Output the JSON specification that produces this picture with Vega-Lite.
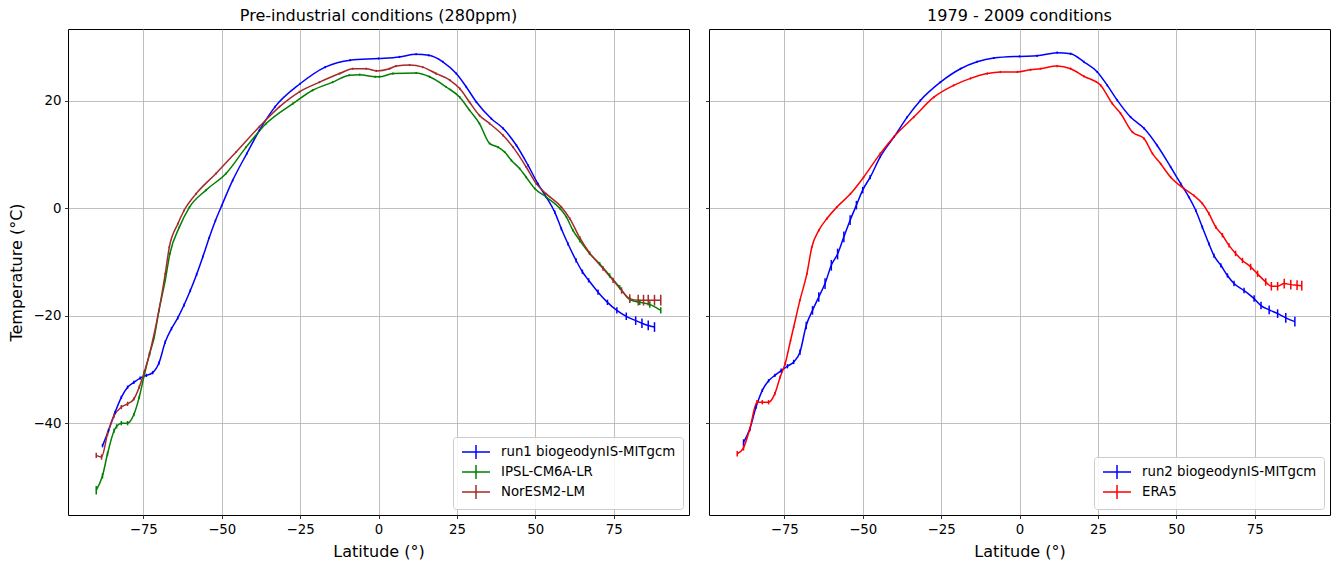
{
  "$schema": "https://vega.github.io/schema/vega-lite/v6.json",
  "background": "white",
  "padding": {"left": 8, "top": 7, "right": 8, "bottom": 5},
  "spacing": 14,
  "config": {
    "font": "DejaVu Sans",
    "view": {"stroke": "black", "strokeWidth": 1},
    "axis": {"domain": false, "grid": true, "gridColor": "#b0b0b0", "gridWidth": 0.8, "tickColor": "black", "tickWidth": 0.8, "tickSize": 3.5, "labelFontSize": 13.3, "labelColor": "black", "labelPadding": 3.5, "titleFontSize": 16, "titleFontWeight": "normal", "titleColor": "black", "titlePadding": 8},
    "title": {"fontSize": 16, "fontWeight": "normal", "offset": 5, "color": "black", "frame": "group"},
    "legend": {"orient": "bottom-right", "offset": 6, "title": null, "symbolType": "M-2,0H2M0,-1V1", "symbolSize": 196, "symbolStrokeWidth": 1.5, "symbolFillColor": "transparent", "labelFontSize": 13.3, "labelColor": "black", "labelLimit": 400, "fillColor": "rgba(255,255,255,0.85)", "strokeColor": "#cccccc", "cornerRadius": 3, "padding": 7, "rowPadding": 0, "symbolOffset": 8, "labelOffset": 17}
  },
  "datasets": {
    "left": [
      {"s": "run1 biogeodynIS-MITgcm", "lat": -88, "t": -44.2, "e": 0.3},
      {"s": "run1 biogeodynIS-MITgcm", "lat": -86.1, "t": -41.4, "e": 0.3},
      {"s": "run1 biogeodynIS-MITgcm", "lat": -84, "t": -38.0, "e": 0.3},
      {"s": "run1 biogeodynIS-MITgcm", "lat": -82, "t": -35.2, "e": 0.3},
      {"s": "run1 biogeodynIS-MITgcm", "lat": -80, "t": -33.3, "e": 0.3},
      {"s": "run1 biogeodynIS-MITgcm", "lat": -78, "t": -32.4, "e": 0.3},
      {"s": "run1 biogeodynIS-MITgcm", "lat": -76, "t": -31.6, "e": 0.3},
      {"s": "run1 biogeodynIS-MITgcm", "lat": -74, "t": -31.1, "e": 0.3},
      {"s": "run1 biogeodynIS-MITgcm", "lat": -72, "t": -30.6, "e": 0.3},
      {"s": "run1 biogeodynIS-MITgcm", "lat": -70, "t": -28.8, "e": 0.3},
      {"s": "run1 biogeodynIS-MITgcm", "lat": -68, "t": -24.9, "e": 0.3},
      {"s": "run1 biogeodynIS-MITgcm", "lat": -66, "t": -22.4, "e": 0.3},
      {"s": "run1 biogeodynIS-MITgcm", "lat": -64, "t": -20.4, "e": 0.3},
      {"s": "run1 biogeodynIS-MITgcm", "lat": -62, "t": -18.0, "e": 0.3},
      {"s": "run1 biogeodynIS-MITgcm", "lat": -60, "t": -15.3, "e": 0.3},
      {"s": "run1 biogeodynIS-MITgcm", "lat": -58, "t": -12.3, "e": 0.3},
      {"s": "run1 biogeodynIS-MITgcm", "lat": -56, "t": -9.0, "e": 0.2},
      {"s": "run1 biogeodynIS-MITgcm", "lat": -54, "t": -5.5, "e": 0.2},
      {"s": "run1 biogeodynIS-MITgcm", "lat": -52, "t": -2.3, "e": 0.2},
      {"s": "run1 biogeodynIS-MITgcm", "lat": -50, "t": 0.5, "e": 0.2},
      {"s": "run1 biogeodynIS-MITgcm", "lat": -46.5, "t": 5.2, "e": 0.2},
      {"s": "run1 biogeodynIS-MITgcm", "lat": -42, "t": 10.2, "e": 0.2},
      {"s": "run1 biogeodynIS-MITgcm", "lat": -38, "t": 14.5, "e": 0.2},
      {"s": "run1 biogeodynIS-MITgcm", "lat": -33, "t": 18.9, "e": 0.2},
      {"s": "run1 biogeodynIS-MITgcm", "lat": -25, "t": 23.2, "e": 0.2},
      {"s": "run1 biogeodynIS-MITgcm", "lat": -17, "t": 26.3, "e": 0.2},
      {"s": "run1 biogeodynIS-MITgcm", "lat": -9, "t": 27.6, "e": 0.2},
      {"s": "run1 biogeodynIS-MITgcm", "lat": 0, "t": 27.9, "e": 0.2},
      {"s": "run1 biogeodynIS-MITgcm", "lat": 6.7, "t": 28.2, "e": 0.2},
      {"s": "run1 biogeodynIS-MITgcm", "lat": 12, "t": 28.7, "e": 0.2},
      {"s": "run1 biogeodynIS-MITgcm", "lat": 16, "t": 28.5, "e": 0.2},
      {"s": "run1 biogeodynIS-MITgcm", "lat": 20.5, "t": 27.3, "e": 0.2},
      {"s": "run1 biogeodynIS-MITgcm", "lat": 24.8, "t": 25.1, "e": 0.2},
      {"s": "run1 biogeodynIS-MITgcm", "lat": 28, "t": 22.6, "e": 0.2},
      {"s": "run1 biogeodynIS-MITgcm", "lat": 31.2, "t": 19.8, "e": 0.2},
      {"s": "run1 biogeodynIS-MITgcm", "lat": 36, "t": 16.7, "e": 0.2},
      {"s": "run1 biogeodynIS-MITgcm", "lat": 39.7, "t": 14.9, "e": 0.2},
      {"s": "run1 biogeodynIS-MITgcm", "lat": 44, "t": 11.7, "e": 0.2},
      {"s": "run1 biogeodynIS-MITgcm", "lat": 47.7, "t": 8.0, "e": 0.2},
      {"s": "run1 biogeodynIS-MITgcm", "lat": 50.8, "t": 4.6, "e": 0.2},
      {"s": "run1 biogeodynIS-MITgcm", "lat": 53.5, "t": 2.1, "e": 0.2},
      {"s": "run1 biogeodynIS-MITgcm", "lat": 56.2, "t": -0.7, "e": 0.3},
      {"s": "run1 biogeodynIS-MITgcm", "lat": 58.3, "t": -3.8, "e": 0.3},
      {"s": "run1 biogeodynIS-MITgcm", "lat": 60.4, "t": -6.6, "e": 0.3},
      {"s": "run1 biogeodynIS-MITgcm", "lat": 63, "t": -9.7, "e": 0.4},
      {"s": "run1 biogeodynIS-MITgcm", "lat": 65, "t": -11.8, "e": 0.4},
      {"s": "run1 biogeodynIS-MITgcm", "lat": 67, "t": -13.4, "e": 0.4},
      {"s": "run1 biogeodynIS-MITgcm", "lat": 70, "t": -15.6, "e": 0.5},
      {"s": "run1 biogeodynIS-MITgcm", "lat": 73, "t": -17.5, "e": 0.5},
      {"s": "run1 biogeodynIS-MITgcm", "lat": 76, "t": -19.0, "e": 0.6},
      {"s": "run1 biogeodynIS-MITgcm", "lat": 79, "t": -20.1, "e": 0.7},
      {"s": "run1 biogeodynIS-MITgcm", "lat": 82, "t": -20.9, "e": 0.8},
      {"s": "run1 biogeodynIS-MITgcm", "lat": 84, "t": -21.4, "e": 0.9},
      {"s": "run1 biogeodynIS-MITgcm", "lat": 86, "t": -21.8, "e": 0.9},
      {"s": "run1 biogeodynIS-MITgcm", "lat": 88, "t": -22.1, "e": 0.9},
      {"s": "IPSL-CM6A-LR", "lat": -90, "t": -52.5, "e": 0.8},
      {"s": "IPSL-CM6A-LR", "lat": -88, "t": -49.8, "e": 0.5},
      {"s": "IPSL-CM6A-LR", "lat": -86.4, "t": -45.7, "e": 0.4},
      {"s": "IPSL-CM6A-LR", "lat": -84.3, "t": -41.4, "e": 0.4},
      {"s": "IPSL-CM6A-LR", "lat": -83.5, "t": -40.6, "e": 0.4},
      {"s": "IPSL-CM6A-LR", "lat": -82, "t": -40.0, "e": 0.4},
      {"s": "IPSL-CM6A-LR", "lat": -80, "t": -40.0, "e": 0.4},
      {"s": "IPSL-CM6A-LR", "lat": -78, "t": -38.4, "e": 0.3},
      {"s": "IPSL-CM6A-LR", "lat": -76.3, "t": -35.2, "e": 0.3},
      {"s": "IPSL-CM6A-LR", "lat": -74.7, "t": -31.1, "e": 0.3},
      {"s": "IPSL-CM6A-LR", "lat": -73, "t": -27.1, "e": 0.3},
      {"s": "IPSL-CM6A-LR", "lat": -71.5, "t": -24.0, "e": 0.2},
      {"s": "IPSL-CM6A-LR", "lat": -70, "t": -19.0, "e": 0.2},
      {"s": "IPSL-CM6A-LR", "lat": -68, "t": -13.4, "e": 0.2},
      {"s": "IPSL-CM6A-LR", "lat": -66.5, "t": -8.4, "e": 0.2},
      {"s": "IPSL-CM6A-LR", "lat": -63.5, "t": -3.5, "e": 0.2},
      {"s": "IPSL-CM6A-LR", "lat": -60.3, "t": 0.2, "e": 0.2},
      {"s": "IPSL-CM6A-LR", "lat": -55, "t": 3.4, "e": 0.2},
      {"s": "IPSL-CM6A-LR", "lat": -48.6, "t": 6.5, "e": 0.2},
      {"s": "IPSL-CM6A-LR", "lat": -42.2, "t": 11.4, "e": 0.2},
      {"s": "IPSL-CM6A-LR", "lat": -35.8, "t": 15.8, "e": 0.2},
      {"s": "IPSL-CM6A-LR", "lat": -27.3, "t": 19.5, "e": 0.2},
      {"s": "IPSL-CM6A-LR", "lat": -21, "t": 22.0, "e": 0.2},
      {"s": "IPSL-CM6A-LR", "lat": -14.6, "t": 23.5, "e": 0.2},
      {"s": "IPSL-CM6A-LR", "lat": -9.3, "t": 24.8, "e": 0.2},
      {"s": "IPSL-CM6A-LR", "lat": -6, "t": 24.9, "e": 0.2},
      {"s": "IPSL-CM6A-LR", "lat": -1, "t": 24.5, "e": 0.2},
      {"s": "IPSL-CM6A-LR", "lat": 0.3, "t": 24.5, "e": 0.2},
      {"s": "IPSL-CM6A-LR", "lat": 4.6, "t": 25.1, "e": 0.2},
      {"s": "IPSL-CM6A-LR", "lat": 12, "t": 25.2, "e": 0.2},
      {"s": "IPSL-CM6A-LR", "lat": 16.3, "t": 24.5, "e": 0.2},
      {"s": "IPSL-CM6A-LR", "lat": 21.6, "t": 22.6, "e": 0.2},
      {"s": "IPSL-CM6A-LR", "lat": 25.9, "t": 20.7, "e": 0.2},
      {"s": "IPSL-CM6A-LR", "lat": 29, "t": 18.3, "e": 0.2},
      {"s": "IPSL-CM6A-LR", "lat": 32.2, "t": 15.8, "e": 0.2},
      {"s": "IPSL-CM6A-LR", "lat": 35.4, "t": 12.1, "e": 0.2},
      {"s": "IPSL-CM6A-LR", "lat": 38.1, "t": 11.4, "e": 0.2},
      {"s": "IPSL-CM6A-LR", "lat": 40.2, "t": 10.5, "e": 0.2},
      {"s": "IPSL-CM6A-LR", "lat": 42.4, "t": 8.9, "e": 0.2},
      {"s": "IPSL-CM6A-LR", "lat": 45, "t": 7.4, "e": 0.2},
      {"s": "IPSL-CM6A-LR", "lat": 47.1, "t": 5.8, "e": 0.2},
      {"s": "IPSL-CM6A-LR", "lat": 49.8, "t": 3.7, "e": 0.2},
      {"s": "IPSL-CM6A-LR", "lat": 53.5, "t": 2.1, "e": 0.2},
      {"s": "IPSL-CM6A-LR", "lat": 57.8, "t": 0.0, "e": 0.2},
      {"s": "IPSL-CM6A-LR", "lat": 59.9, "t": -1.6, "e": 0.2},
      {"s": "IPSL-CM6A-LR", "lat": 62, "t": -4.1, "e": 0.2},
      {"s": "IPSL-CM6A-LR", "lat": 64.2, "t": -6.0, "e": 0.3},
      {"s": "IPSL-CM6A-LR", "lat": 67.3, "t": -8.4, "e": 0.3},
      {"s": "IPSL-CM6A-LR", "lat": 70.5, "t": -10.3, "e": 0.3},
      {"s": "IPSL-CM6A-LR", "lat": 73.7, "t": -12.5, "e": 0.4},
      {"s": "IPSL-CM6A-LR", "lat": 76.9, "t": -14.7, "e": 0.4},
      {"s": "IPSL-CM6A-LR", "lat": 80.1, "t": -17.0, "e": 0.5},
      {"s": "IPSL-CM6A-LR", "lat": 83.3, "t": -17.5, "e": 0.5},
      {"s": "IPSL-CM6A-LR", "lat": 86.5, "t": -17.9, "e": 0.6},
      {"s": "IPSL-CM6A-LR", "lat": 90, "t": -19.0, "e": 0.6},
      {"s": "NorESM2-LM", "lat": -90, "t": -46.0, "e": 0.5},
      {"s": "NorESM2-LM", "lat": -88.3, "t": -46.3, "e": 0.5},
      {"s": "NorESM2-LM", "lat": -86.4, "t": -42.0, "e": 0.4},
      {"s": "NorESM2-LM", "lat": -84.3, "t": -38.6, "e": 0.4},
      {"s": "NorESM2-LM", "lat": -82, "t": -37.0, "e": 0.4},
      {"s": "NorESM2-LM", "lat": -80, "t": -36.4, "e": 0.4},
      {"s": "NorESM2-LM", "lat": -78, "t": -35.5, "e": 0.3},
      {"s": "NorESM2-LM", "lat": -76.3, "t": -33.3, "e": 0.3},
      {"s": "NorESM2-LM", "lat": -74.7, "t": -30.5, "e": 0.3},
      {"s": "NorESM2-LM", "lat": -73, "t": -27.1, "e": 0.3},
      {"s": "NorESM2-LM", "lat": -72, "t": -24.6, "e": 0.2},
      {"s": "NorESM2-LM", "lat": -70, "t": -19.0, "e": 0.2},
      {"s": "NorESM2-LM", "lat": -68, "t": -12.2, "e": 0.2},
      {"s": "NorESM2-LM", "lat": -66.7, "t": -7.2, "e": 0.2},
      {"s": "NorESM2-LM", "lat": -64, "t": -2.9, "e": 0.2},
      {"s": "NorESM2-LM", "lat": -62, "t": -0.4, "e": 0.2},
      {"s": "NorESM2-LM", "lat": -58.2, "t": 2.7, "e": 0.2},
      {"s": "NorESM2-LM", "lat": -51.8, "t": 6.5, "e": 0.2},
      {"s": "NorESM2-LM", "lat": -45.4, "t": 10.5, "e": 0.2},
      {"s": "NorESM2-LM", "lat": -38, "t": 15.2, "e": 0.2},
      {"s": "NorESM2-LM", "lat": -31.6, "t": 18.9, "e": 0.2},
      {"s": "NorESM2-LM", "lat": -25.2, "t": 21.7, "e": 0.2},
      {"s": "NorESM2-LM", "lat": -18.8, "t": 23.5, "e": 0.2},
      {"s": "NorESM2-LM", "lat": -12.4, "t": 25.1, "e": 0.2},
      {"s": "NorESM2-LM", "lat": -8.2, "t": 26.0, "e": 0.2},
      {"s": "NorESM2-LM", "lat": -3.9, "t": 26.0, "e": 0.2},
      {"s": "NorESM2-LM", "lat": -0.7, "t": 25.6, "e": 0.2},
      {"s": "NorESM2-LM", "lat": 3.5, "t": 26.0, "e": 0.2},
      {"s": "NorESM2-LM", "lat": 5.6, "t": 26.5, "e": 0.2},
      {"s": "NorESM2-LM", "lat": 9.9, "t": 26.7, "e": 0.2},
      {"s": "NorESM2-LM", "lat": 14.1, "t": 26.3, "e": 0.2},
      {"s": "NorESM2-LM", "lat": 18.4, "t": 25.1, "e": 0.2},
      {"s": "NorESM2-LM", "lat": 22.7, "t": 23.9, "e": 0.2},
      {"s": "NorESM2-LM", "lat": 25.9, "t": 22.3, "e": 0.2},
      {"s": "NorESM2-LM", "lat": 29, "t": 19.8, "e": 0.2},
      {"s": "NorESM2-LM", "lat": 32.2, "t": 17.3, "e": 0.2},
      {"s": "NorESM2-LM", "lat": 35.4, "t": 15.8, "e": 0.2},
      {"s": "NorESM2-LM", "lat": 39.7, "t": 13.6, "e": 0.2},
      {"s": "NorESM2-LM", "lat": 42.9, "t": 11.4, "e": 0.2},
      {"s": "NorESM2-LM", "lat": 47.1, "t": 7.7, "e": 0.2},
      {"s": "NorESM2-LM", "lat": 50.3, "t": 4.6, "e": 0.2},
      {"s": "NorESM2-LM", "lat": 53.5, "t": 2.7, "e": 0.2},
      {"s": "NorESM2-LM", "lat": 58.3, "t": 0.25, "e": 0.2},
      {"s": "NorESM2-LM", "lat": 61, "t": -1.9, "e": 0.2},
      {"s": "NorESM2-LM", "lat": 64.2, "t": -5.5, "e": 0.3},
      {"s": "NorESM2-LM", "lat": 67.3, "t": -8.3, "e": 0.3},
      {"s": "NorESM2-LM", "lat": 71.6, "t": -11.2, "e": 0.4},
      {"s": "NorESM2-LM", "lat": 74.8, "t": -13.4, "e": 0.5},
      {"s": "NorESM2-LM", "lat": 77.5, "t": -15.3, "e": 0.6},
      {"s": "NorESM2-LM", "lat": 80.1, "t": -16.8, "e": 0.8},
      {"s": "NorESM2-LM", "lat": 82.8, "t": -17.1, "e": 1.0},
      {"s": "NorESM2-LM", "lat": 84.5, "t": -17.1, "e": 1.0},
      {"s": "NorESM2-LM", "lat": 86, "t": -17.1, "e": 1.0},
      {"s": "NorESM2-LM", "lat": 88, "t": -17.1, "e": 1.0},
      {"s": "NorESM2-LM", "lat": 90, "t": -17.1, "e": 1.0}
    ],
    "right": [
      {"s": "run2 biogeodynIS-MITgcm", "lat": -88, "t": -43.6, "e": 0.6},
      {"s": "run2 biogeodynIS-MITgcm", "lat": -86, "t": -41.1, "e": 0.4},
      {"s": "run2 biogeodynIS-MITgcm", "lat": -84, "t": -37.0, "e": 0.3},
      {"s": "run2 biogeodynIS-MITgcm", "lat": -82, "t": -33.9, "e": 0.3},
      {"s": "run2 biogeodynIS-MITgcm", "lat": -80, "t": -32.1, "e": 0.3},
      {"s": "run2 biogeodynIS-MITgcm", "lat": -78, "t": -31.1, "e": 0.3},
      {"s": "run2 biogeodynIS-MITgcm", "lat": -76, "t": -30.2, "e": 0.4},
      {"s": "run2 biogeodynIS-MITgcm", "lat": -74, "t": -29.4, "e": 0.4},
      {"s": "run2 biogeodynIS-MITgcm", "lat": -72, "t": -28.6, "e": 0.4},
      {"s": "run2 biogeodynIS-MITgcm", "lat": -70, "t": -26.8, "e": 0.5},
      {"s": "run2 biogeodynIS-MITgcm", "lat": -68, "t": -21.8, "e": 0.7},
      {"s": "run2 biogeodynIS-MITgcm", "lat": -66, "t": -19.0, "e": 0.8},
      {"s": "run2 biogeodynIS-MITgcm", "lat": -64, "t": -16.5, "e": 0.9},
      {"s": "run2 biogeodynIS-MITgcm", "lat": -62, "t": -14.0, "e": 1.0},
      {"s": "run2 biogeodynIS-MITgcm", "lat": -60, "t": -10.6, "e": 1.0},
      {"s": "run2 biogeodynIS-MITgcm", "lat": -58, "t": -8.5, "e": 1.0},
      {"s": "run2 biogeodynIS-MITgcm", "lat": -56, "t": -5.3, "e": 1.0},
      {"s": "run2 biogeodynIS-MITgcm", "lat": -54, "t": -2.2, "e": 0.9},
      {"s": "run2 biogeodynIS-MITgcm", "lat": -52, "t": 0.6, "e": 0.8},
      {"s": "run2 biogeodynIS-MITgcm", "lat": -50, "t": 3.4, "e": 0.6},
      {"s": "run2 biogeodynIS-MITgcm", "lat": -47.6, "t": 5.8, "e": 0.4},
      {"s": "run2 biogeodynIS-MITgcm", "lat": -44.4, "t": 9.6, "e": 0.2},
      {"s": "run2 biogeodynIS-MITgcm", "lat": -40, "t": 13.3, "e": 0.2},
      {"s": "run2 biogeodynIS-MITgcm", "lat": -35.8, "t": 17.0, "e": 0.2},
      {"s": "run2 biogeodynIS-MITgcm", "lat": -31.6, "t": 20.1, "e": 0.2},
      {"s": "run2 biogeodynIS-MITgcm", "lat": -25.2, "t": 23.5, "e": 0.2},
      {"s": "run2 biogeodynIS-MITgcm", "lat": -18.8, "t": 26.0, "e": 0.2},
      {"s": "run2 biogeodynIS-MITgcm", "lat": -13.5, "t": 27.3, "e": 0.2},
      {"s": "run2 biogeodynIS-MITgcm", "lat": -8.2, "t": 28.0, "e": 0.2},
      {"s": "run2 biogeodynIS-MITgcm", "lat": 0, "t": 28.3, "e": 0.2},
      {"s": "run2 biogeodynIS-MITgcm", "lat": 5.6, "t": 28.4, "e": 0.2},
      {"s": "run2 biogeodynIS-MITgcm", "lat": 12, "t": 29.0, "e": 0.2},
      {"s": "run2 biogeodynIS-MITgcm", "lat": 16.3, "t": 28.8, "e": 0.2},
      {"s": "run2 biogeodynIS-MITgcm", "lat": 20.5, "t": 27.3, "e": 0.2},
      {"s": "run2 biogeodynIS-MITgcm", "lat": 24.8, "t": 25.4, "e": 0.2},
      {"s": "run2 biogeodynIS-MITgcm", "lat": 28, "t": 22.9, "e": 0.2},
      {"s": "run2 biogeodynIS-MITgcm", "lat": 31.2, "t": 20.1, "e": 0.2},
      {"s": "run2 biogeodynIS-MITgcm", "lat": 35.4, "t": 17.0, "e": 0.2},
      {"s": "run2 biogeodynIS-MITgcm", "lat": 39.7, "t": 14.9, "e": 0.2},
      {"s": "run2 biogeodynIS-MITgcm", "lat": 43.9, "t": 11.7, "e": 0.2},
      {"s": "run2 biogeodynIS-MITgcm", "lat": 48.2, "t": 7.7, "e": 0.2},
      {"s": "run2 biogeodynIS-MITgcm", "lat": 51.4, "t": 4.6, "e": 0.2},
      {"s": "run2 biogeodynIS-MITgcm", "lat": 54, "t": 2.1, "e": 0.2},
      {"s": "run2 biogeodynIS-MITgcm", "lat": 56.2, "t": -0.4, "e": 0.3},
      {"s": "run2 biogeodynIS-MITgcm", "lat": 58.3, "t": -3.5, "e": 0.3},
      {"s": "run2 biogeodynIS-MITgcm", "lat": 60.4, "t": -6.6, "e": 0.3},
      {"s": "run2 biogeodynIS-MITgcm", "lat": 62, "t": -8.8, "e": 0.4},
      {"s": "run2 biogeodynIS-MITgcm", "lat": 64.2, "t": -10.6, "e": 0.4},
      {"s": "run2 biogeodynIS-MITgcm", "lat": 66.3, "t": -12.5, "e": 0.4},
      {"s": "run2 biogeodynIS-MITgcm", "lat": 68.4, "t": -14.0, "e": 0.5},
      {"s": "run2 biogeodynIS-MITgcm", "lat": 71.6, "t": -15.3, "e": 0.5},
      {"s": "run2 biogeodynIS-MITgcm", "lat": 74.8, "t": -16.8, "e": 0.6},
      {"s": "run2 biogeodynIS-MITgcm", "lat": 77, "t": -18.1, "e": 0.7},
      {"s": "run2 biogeodynIS-MITgcm", "lat": 79.6, "t": -18.9, "e": 0.8},
      {"s": "run2 biogeodynIS-MITgcm", "lat": 82.3, "t": -19.6, "e": 0.8},
      {"s": "run2 biogeodynIS-MITgcm", "lat": 84.9, "t": -20.4, "e": 0.9},
      {"s": "run2 biogeodynIS-MITgcm", "lat": 87.8, "t": -21.1, "e": 0.9},
      {"s": "ERA5", "lat": -90, "t": -45.7, "e": 0.5},
      {"s": "ERA5", "lat": -88, "t": -44.6, "e": 0.5},
      {"s": "ERA5", "lat": -86, "t": -41.1, "e": 0.4},
      {"s": "ERA5", "lat": -83.7, "t": -36.1, "e": 0.4},
      {"s": "ERA5", "lat": -82, "t": -36.1, "e": 0.4},
      {"s": "ERA5", "lat": -80, "t": -36.1, "e": 0.4},
      {"s": "ERA5", "lat": -78, "t": -34.5, "e": 0.3},
      {"s": "ERA5", "lat": -76.3, "t": -31.4, "e": 0.3},
      {"s": "ERA5", "lat": -74.7, "t": -28.9, "e": 0.3},
      {"s": "ERA5", "lat": -73, "t": -24.6, "e": 0.2},
      {"s": "ERA5", "lat": -72, "t": -22.1, "e": 0.2},
      {"s": "ERA5", "lat": -70, "t": -17.1, "e": 0.2},
      {"s": "ERA5", "lat": -67.8, "t": -12.2, "e": 0.2},
      {"s": "ERA5", "lat": -66.2, "t": -7.2, "e": 0.2},
      {"s": "ERA5", "lat": -64, "t": -4.1, "e": 0.2},
      {"s": "ERA5", "lat": -61.4, "t": -1.9, "e": 0.2},
      {"s": "ERA5", "lat": -58.2, "t": 0.25, "e": 0.2},
      {"s": "ERA5", "lat": -53.9, "t": 2.7, "e": 0.2},
      {"s": "ERA5", "lat": -49.7, "t": 5.8, "e": 0.2},
      {"s": "ERA5", "lat": -44.4, "t": 10.2, "e": 0.2},
      {"s": "ERA5", "lat": -40.1, "t": 13.3, "e": 0.2},
      {"s": "ERA5", "lat": -33.7, "t": 17.0, "e": 0.2},
      {"s": "ERA5", "lat": -27.3, "t": 20.7, "e": 0.2},
      {"s": "ERA5", "lat": -21, "t": 22.9, "e": 0.2},
      {"s": "ERA5", "lat": -15.6, "t": 24.2, "e": 0.2},
      {"s": "ERA5", "lat": -10.3, "t": 25.1, "e": 0.2},
      {"s": "ERA5", "lat": -6.1, "t": 25.4, "e": 0.2},
      {"s": "ERA5", "lat": -0.7, "t": 25.4, "e": 0.2},
      {"s": "ERA5", "lat": 3.5, "t": 25.8, "e": 0.2},
      {"s": "ERA5", "lat": 6.7, "t": 26.0, "e": 0.2},
      {"s": "ERA5", "lat": 12, "t": 26.5, "e": 0.2},
      {"s": "ERA5", "lat": 16.3, "t": 26.0, "e": 0.2},
      {"s": "ERA5", "lat": 20.5, "t": 24.6, "e": 0.2},
      {"s": "ERA5", "lat": 25.9, "t": 22.9, "e": 0.2},
      {"s": "ERA5", "lat": 29.6, "t": 19.5, "e": 0.2},
      {"s": "ERA5", "lat": 32.2, "t": 17.7, "e": 0.2},
      {"s": "ERA5", "lat": 36, "t": 14.2, "e": 0.2},
      {"s": "ERA5", "lat": 39.7, "t": 13.0, "e": 0.2},
      {"s": "ERA5", "lat": 42.4, "t": 10.2, "e": 0.2},
      {"s": "ERA5", "lat": 45, "t": 8.3, "e": 0.2},
      {"s": "ERA5", "lat": 48.2, "t": 5.8, "e": 0.2},
      {"s": "ERA5", "lat": 52.4, "t": 3.7, "e": 0.2},
      {"s": "ERA5", "lat": 55.6, "t": 2.4, "e": 0.2},
      {"s": "ERA5", "lat": 58.3, "t": 0.9, "e": 0.2},
      {"s": "ERA5", "lat": 60.4, "t": -1.0, "e": 0.3},
      {"s": "ERA5", "lat": 62.6, "t": -3.5, "e": 0.3},
      {"s": "ERA5", "lat": 64.7, "t": -5.0, "e": 0.4},
      {"s": "ERA5", "lat": 66.8, "t": -6.9, "e": 0.4},
      {"s": "ERA5", "lat": 68.9, "t": -8.4, "e": 0.5},
      {"s": "ERA5", "lat": 71.1, "t": -9.7, "e": 0.5},
      {"s": "ERA5", "lat": 73.7, "t": -10.9, "e": 0.6},
      {"s": "ERA5", "lat": 75.9, "t": -12.2, "e": 0.6},
      {"s": "ERA5", "lat": 78.5, "t": -13.7, "e": 0.7},
      {"s": "ERA5", "lat": 80.3, "t": -14.5, "e": 0.8},
      {"s": "ERA5", "lat": 82.3, "t": -14.5, "e": 0.8},
      {"s": "ERA5", "lat": 84.4, "t": -14.0, "e": 0.9},
      {"s": "ERA5", "lat": 86.5, "t": -14.2, "e": 0.9},
      {"s": "ERA5", "lat": 88.5, "t": -14.3, "e": 0.9},
      {"s": "ERA5", "lat": 90, "t": -14.4, "e": 0.9}
    ]
  },
  "hconcat": [
    {
      "width": 621,
      "height": 486,
      "title": "Pre-industrial conditions (280ppm)",
      "data": {"name": "left"},
      "encoding": {
        "x": {"field": "lat", "type": "quantitative", "scale": {"domain": [-99, 99], "nice": false, "zero": false}, "axis": {"values": [-75, -50, -25, 0, 25, 50, 75], "title": "Latitude (°)"}},
        "y": {"field": "t", "type": "quantitative", "scale": {"domain": [-57.1, 33.4], "nice": false, "zero": false}, "axis": {"values": [-40, -20, 0, 20], "title": "Temperature (°C)"}},
        "color": {"field": "s", "type": "nominal", "scale": {"domain": ["run1 biogeodynIS-MITgcm", "IPSL-CM6A-LR", "NorESM2-LM"], "range": ["#0000ff", "#008000", "#a52a2a"]}}
      },
      "layer": [
        {"mark": {"type": "line", "strokeWidth": 1.5, "interpolate": "monotone"}},
        {"mark": {"type": "errorbar", "thickness": 1.5}, "encoding": {"yError": {"field": "e"}}}
      ]
    },
    {
      "width": 621,
      "height": 486,
      "title": "1979 - 2009 conditions",
      "data": {"name": "right"},
      "encoding": {
        "x": {"field": "lat", "type": "quantitative", "scale": {"domain": [-99, 99], "nice": false, "zero": false}, "axis": {"values": [-75, -50, -25, 0, 25, 50, 75], "title": "Latitude (°)"}},
        "y": {"field": "t", "type": "quantitative", "scale": {"domain": [-57.1, 33.4], "nice": false, "zero": false}, "axis": {"values": [-40, -20, 0, 20], "labels": false, "title": null}},
        "color": {"field": "s", "type": "nominal", "scale": {"domain": ["run2 biogeodynIS-MITgcm", "ERA5"], "range": ["#0000ff", "#ff0000"]}}
      },
      "layer": [
        {"mark": {"type": "line", "strokeWidth": 1.5, "interpolate": "monotone"}},
        {"mark": {"type": "errorbar", "thickness": 1.5}, "encoding": {"yError": {"field": "e"}}}
      ]
    }
  ],
  "resolve": {"scale": {"color": "independent"}, "legend": {"color": "independent"}}
}
